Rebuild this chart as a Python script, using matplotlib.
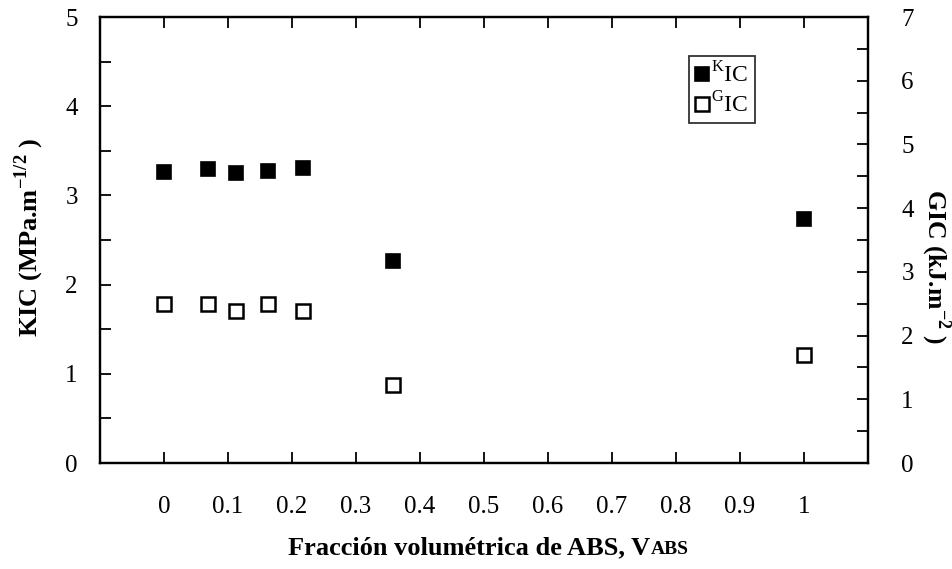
import matplotlib
matplotlib.use("Agg")
import matplotlib.pyplot as plt
from matplotlib.ticker import MultipleLocator

# Data
v_abs = [0.0, 0.068, 0.113, 0.162, 0.217, 0.358, 1.0]
k_ic = [3.26, 3.30, 3.25, 3.27, 3.31, 2.26, 2.74]      # MPa.m^-1/2
g_ic = [2.49, 2.49, 2.39, 2.49, 2.39, 1.22, 1.70]      # kJ.m^-2

x_ticks = [0, 0.1, 0.2, 0.3, 0.4, 0.5, 0.6, 0.7, 0.8, 0.9, 1]
x_tick_labels = ["0", "0.1", "0.2", "0.3", "0.4", "0.5", "0.6", "0.7",
                 "0.8", "0.9", "1"]

plt.rcParams['font.family'] = ['Liberation Serif', 'DejaVu Serif']
plt.rcParams['mathtext.fontset'] = 'custom'
plt.rcParams['mathtext.rm'] = 'Liberation Serif'
plt.rcParams['mathtext.bf'] = 'Liberation Serif:bold'

fig = plt.figure(figsize=(9.52, 5.69), dpi=100)
ax = fig.add_axes([100 / 952, 1 - 463 / 569, 768 / 952, 446 / 569])
ax2 = ax.twinx()

ax.plot(v_abs, k_ic, 's', ms=10, mfc='black', mec='black', mew=1.2,
        label=r'$^{\mathrm{K}}$IC', zorder=3)
ax2.plot(v_abs, g_ic, 's', ms=9.5, mfc='white', mec='black', mew=1.8,
         label=r'$^{\mathrm{G}}$IC', zorder=3)

ax.set_xlim(-0.1, 1.1)
ax.set_ylim(0, 5)
ax2.set_ylim(0, 7)

ax.set_xticks(x_ticks)
ax.set_xticklabels(x_tick_labels)
ax.yaxis.set_major_locator(MultipleLocator(1))
ax.yaxis.set_minor_locator(MultipleLocator(0.5))
ax2.yaxis.set_major_locator(MultipleLocator(1))
ax2.yaxis.set_minor_locator(MultipleLocator(0.5))

ax.tick_params(axis='x', which='major', direction='in', length=8, width=1.3,
               top=True, labelsize=18, pad=24)
ax.tick_params(axis='y', which='both', direction='in', length=8, width=1.3,
               labelsize=18, pad=16)
ax2.tick_params(axis='y', which='both', direction='in', length=8, width=1.3,
                labelsize=18, pad=24)

for a in (ax, ax2):
    for sp in a.spines.values():
        sp.set_linewidth(1.6)

xl = ax.set_xlabel('Fracción volumétrica de ABS, V', fontsize=19,
                   fontweight='bold')
ax.xaxis.set_label_coords(0.48, -0.165)
# small-caps "ABS" after the V, sitting on the same baseline
ax.annotate('ABS', xy=(1, 0), xycoords=xl, xytext=(1, 4.2),
            textcoords='offset points', ha='left', va='baseline',
            fontsize=14, fontweight='bold')

ax.set_ylabel(r'KIC (MPa.m$^{\mathbf{-1/2}}$ )', fontsize=19,
              fontweight='bold')
ax.yaxis.set_label_coords(-0.07, 0.505)
ax2.set_ylabel(r'GIC (kJ.m$^{\mathbf{-2}}$ )', fontsize=18.5,
               fontweight='bold', rotation=-90, va='bottom')
ax2.yaxis.set_label_coords(1.066, 0.44)

h1, l1 = ax.get_legend_handles_labels()
h2, l2 = ax2.get_legend_handles_labels()
leg = ax2.legend(h1 + h2, l1 + l2, loc='upper left',
                 bbox_to_anchor=(589 / 768, 1 - 39 / 446),
                 fontsize=17, frameon=True, fancybox=False,
                 handlelength=0.6, handletextpad=0.1, borderpad=0.25,
                 labelspacing=0.2, borderaxespad=0)
leg.get_frame().set_edgecolor('black')
leg.get_frame().set_linewidth(1.3)

fig.savefig('out.png', dpi=100)
